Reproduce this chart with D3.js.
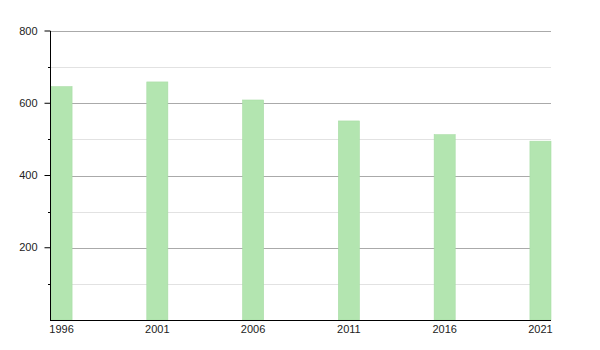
<!DOCTYPE html>
<html lang="en">
	<head>
		<meta charset="UTF-8" />
		<title>Population</title>
		<script src="https://d3js.org/d3.v7.min.js"></script>
		<style>
			body {
				margin: 0;
				background: #fff;
				font-family: "Liberation Sans", Arial, sans-serif;
			}
		</style>
	</head>
	<body>
		<svg id="chart"></svg>
		<script>
			const years = ["1996", "2001", "2006", "2011", "2016", "2021"];
			const values = [646, 659, 609, 551, 513, 495];
			const majorTicks = [200, 400, 600, 800];
			const minorTicks = [100, 300, 500, 700];

			const width = 600;
			const height = 350;
			const margin = { top: 31, right: 49, bottom: 30, left: 50 };

			const svg = d3
				.select("#chart")
				.attr("width", width)
				.attr("height", height);

			const x = d3
				.scaleBand()
				.domain(years)
				.range([margin.left + 1, width - margin.right])
				.paddingInner(0.78)
				.paddingOuter(0);

			const y = d3
				.scaleLinear()
				.domain([0, 800])
				.range([height - margin.bottom, margin.top]);

			// minor grid
			svg
				.append("g")
				.selectAll("line")
				.data(minorTicks)
				.join("line")
				.attr("x1", margin.left)
				.attr("x2", width - margin.right)
				.attr("y1", (d) => Math.round(y(d)) + 0.5)
				.attr("y2", (d) => Math.round(y(d)) + 0.5)
				.attr("stroke", "#e2e2e2");

			// major grid
			svg
				.append("g")
				.selectAll("line")
				.data(majorTicks)
				.join("line")
				.attr("x1", margin.left)
				.attr("x2", width - margin.right)
				.attr("y1", (d) => Math.round(y(d)) + 0.5)
				.attr("y2", (d) => Math.round(y(d)) + 0.5)
				.attr("stroke", "#aaaaaa");

			// bars
			svg
				.append("g")
				.selectAll("rect")
				.data(values)
				.join("rect")
				.attr("x", (d, i) => x(years[i]))
				.attr("y", (d) => y(d))
				.attr("width", x.bandwidth())
				.attr("height", (d) => y(0) - y(d))
				.attr("fill", "#b3e5b0")
				.attr("stroke", "#a8dca5")
				.attr("stroke-width", 0.6);

			// y axis
			const yAxis = svg
				.append("g")
				.attr("transform", `translate(${margin.left + 0.5},0)`)
				.call(
					d3
						.axisLeft(y)
						.tickValues(majorTicks)
						.tickSize(6)
						.tickPadding(7)
						.offset(0)
				);
			yAxis.select(".domain").remove();
			yAxis.selectAll("text").attr("font-size", 11).attr("fill", "#222");
			yAxis.selectAll("line").attr("stroke", "#000");

			svg
				.append("g")
				.selectAll("line")
				.data(minorTicks)
				.join("line")
				.attr("x1", margin.left - 2)
				.attr("x2", margin.left)
				.attr("y1", (d) => Math.round(y(d)) + 0.5)
				.attr("y2", (d) => Math.round(y(d)) + 0.5)
				.attr("stroke", "#000");

			svg
				.append("line")
				.attr("x1", margin.left + 0.5)
				.attr("x2", margin.left + 0.5)
				.attr("y1", y(800))
				.attr("y2", y(0))
				.attr("stroke", "#000");

			// x axis
			const xAxis = svg
				.append("g")
				.attr("transform", `translate(0,${y(0)})`)
				.call(d3.axisBottom(x).tickSize(0).tickPadding(5).offset(0));
			xAxis.select(".domain").remove();
			xAxis.selectAll("text").attr("font-size", 11).attr("fill", "#222");

			svg
				.append("line")
				.attr("x1", margin.left)
				.attr("x2", width - margin.right)
				.attr("y1", y(0) + 0.5)
				.attr("y2", y(0) + 0.5)
				.attr("stroke", "#000");
		</script>
	</body>
</html>
